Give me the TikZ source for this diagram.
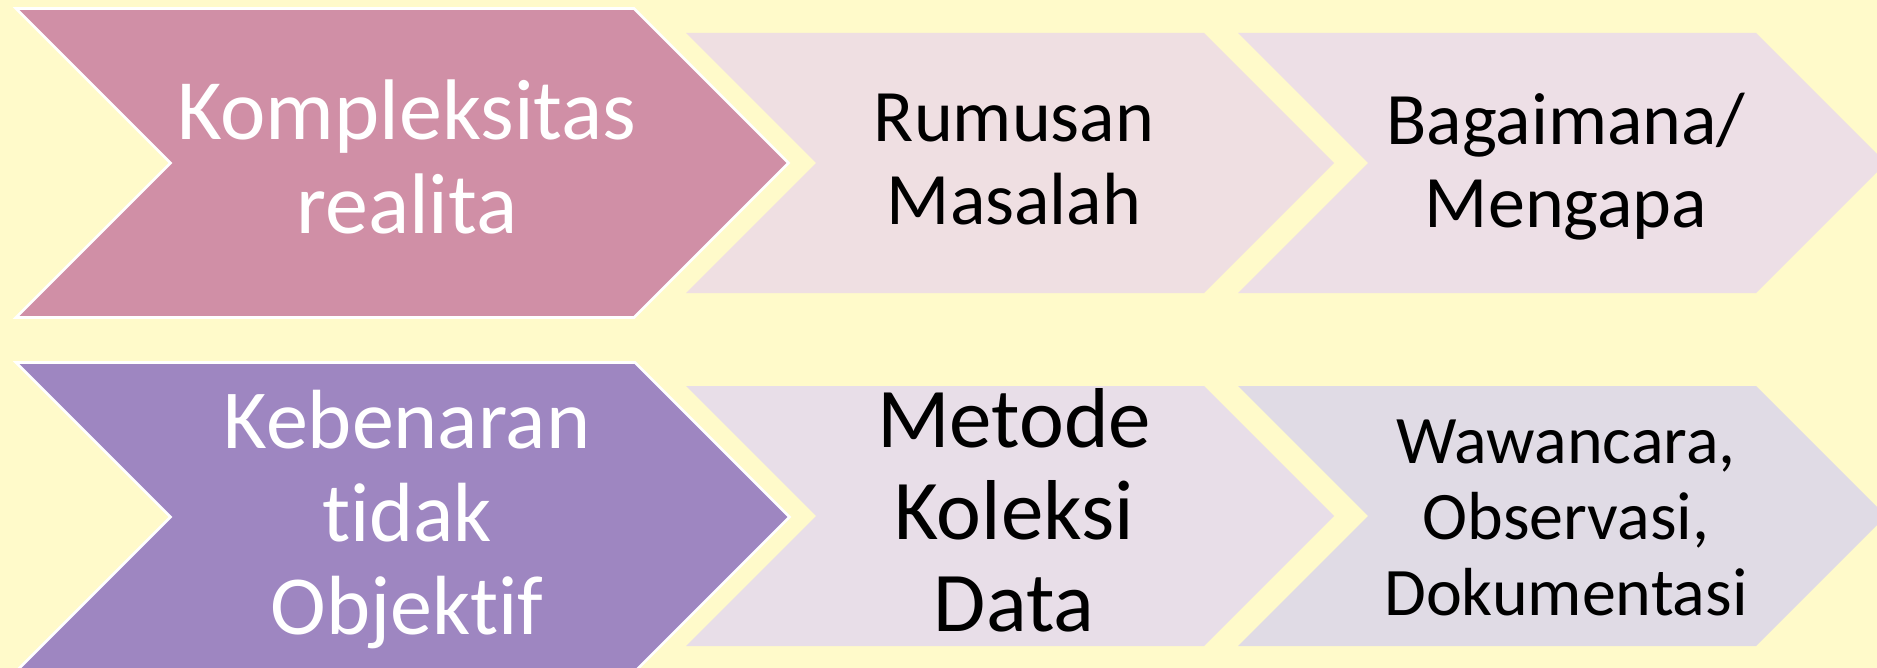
\documentclass[tikz,border=0pt]{standalone}
\usepackage{fontspec}
\setmainfont{Carlito}[RawFeature={-liga}]
\definecolor{bgyellow}{RGB}{255,250,202}
\definecolor{rosefill}{RGB}{208,143,166}
\definecolor{violetfill}{RGB}{158,134,193}
\definecolor{paleroseA}{RGB}{239,223,226}
\definecolor{paleroseB}{RGB}{237,223,230}
\definecolor{palelilacA}{RGB}{232,222,232}
\definecolor{palelilacB}{RGB}{224,219,229}
% chevron: style, left x, top y, right corner x, half height
\newcommand\chevshape[5]{%
  \path[#1] (#2,#3) -- (#4,#3) -- (#4+#5,#3+#5) -- (#4,#3+2*#5)
    -- (#2,#3+2*#5) -- (#2+#5,#3+#5) -- cycle;}
\begin{document}
\begin{tikzpicture}[x=0.5pt,y=-0.5pt,
  leadchev/.style={draw=white,line width=1.3pt,line join=miter},
  label/.style={inner sep=0pt,align=center},
  lighttext/.style={label,text=white},
  darktext/.style={label,text=black}]
  \path[fill=bgyellow] (0,0) rectangle (1877,668);
  \useasboundingbox (0,0) rectangle (1877,668);
  % upper row
  \chevshape{leadchev,fill=rosefill}{16}{8.5}{634}{154.5}
  \chevshape{fill=paleroseA}{686}{33}{1204}{130}
  \chevshape{fill=paleroseB}{1238}{33}{1756}{130}
  % lower row
  \chevshape{leadchev,fill=violetfill}{16}{362.5}{635}{154.5}
  \chevshape{fill=palelilacA}{686}{386}{1204}{130}
  \chevshape{fill=palelilacB}{1238}{386}{1756}{130}
  % labels
  \node[lighttext,font=\fontsize{43}{47}\selectfont] (kompleksitas) at (407,157)
    {Kompleksitas\\realita};
  \node[darktext,font=\fontsize{37}{41.5}\selectfont] (rumusan) at (1014,160)
    {Rumusan\\Masalah};
  \node[darktext,font=\fontsize{37}{41.5}\selectfont] (bagaimana) at (1566,167)
    {Bagaimana/\\Mengapa};
  \node[lighttext,font=\fontsize{42}{46.5}\selectfont] (kebenaran) at (407,520)
    {Kebenaran\\tidak\\Objektif};
  \node[darktext,font=\fontsize{42.5}{46}\selectfont] (metode) at (1014,510)
    {Metode\\Koleksi\\Data};
  \node[darktext,font=\fontsize{34}{38}\selectfont] (wawancara) at (1566,518)
    {Wawancara,\\Observasi,\\Dokumentasi};
\end{tikzpicture}
\end{document}
